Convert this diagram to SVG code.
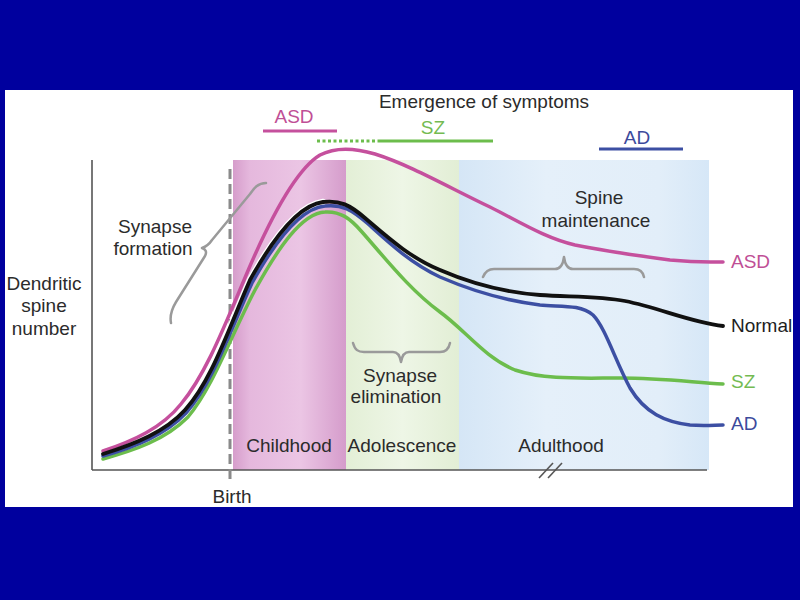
<svg xmlns="http://www.w3.org/2000/svg" width="800" height="600" viewBox="0 0 800 600">
<defs>
<style>
text{font-family:"Liberation Sans",Arial,sans-serif;font-size:19px;fill:#2b2b2b}
.mid{text-anchor:middle}
.curve{fill:none;stroke-linecap:round;stroke-linejoin:round}
.brace{fill:none;stroke:#9a9a9a;stroke-width:2.5;stroke-linecap:round;stroke-linejoin:round}
.halo{fill:none;stroke:#ffffff;stroke-width:6.5;stroke-linecap:round}
</style>
<linearGradient id="gChild" x1="0" y1="0" x2="1" y2="0">
<stop offset="0" stop-color="#d69dcb"/>
<stop offset="0.15" stop-color="#e5b8dd"/>
<stop offset="0.6" stop-color="#ebc5e4"/>
<stop offset="1" stop-color="#d59ccb"/>
</linearGradient>
<linearGradient id="gAdol" x1="0" y1="0" x2="1" y2="0">
<stop offset="0" stop-color="#e3efd6"/>
<stop offset="0.5" stop-color="#eef6e6"/>
<stop offset="1" stop-color="#e2eed5"/>
</linearGradient>
<linearGradient id="gAdult" x1="0" y1="0" x2="1" y2="0">
<stop offset="0" stop-color="#d5e6f6"/>
<stop offset="0.35" stop-color="#e5f0fa"/>
<stop offset="0.8" stop-color="#e2eef9"/>
<stop offset="1" stop-color="#d6e7f7"/>
</linearGradient>
</defs>
<rect x="0" y="0" width="800" height="600" fill="#00009e"/>
<rect x="5" y="90" width="788" height="417" fill="#ffffff"/>

<g id="periods">
<rect id="childhood" x="233" y="160" width="113" height="310" fill="url(#gChild)"/>
<rect id="adolescence" x="346" y="160" width="113" height="310" fill="url(#gAdol)"/>
<rect id="adulthood" x="459" y="160" width="250" height="310" fill="url(#gAdult)"/>
</g>

<g id="axes" stroke="#555" stroke-width="1.6" fill="none">
<line x1="92" y1="160" x2="92" y2="470"/>
<line x1="92" y1="470" x2="707" y2="470"/>
<line x1="539" y1="478" x2="553" y2="463"/>
<line x1="548" y1="478" x2="562" y2="463"/>
</g>
<line id="birth" x1="230" y1="169" x2="230" y2="482" stroke="#8a8a8a" stroke-width="3" stroke-dasharray="10 5"/>

<g id="braces">
<path class="brace" d="M266,183 C258,183 254,188 250,194 L212,240 Q208,246 202,248 Q208,250 205,256 L176,302 C170,312 170,318 171,323"/>
<path class="brace" d="M353,343 C355,350 358,352 364,352 L393,352 C398,352 400,356 401,362 C402,356 404,352 409,352 L440,352 C446,352 449,348 450,343"/>
<path class="brace" d="M483,277 C485,272 488,269 494,269 L555,269 C560,269 563,265 564,257 C565,265 568,269 573,269 L634,269 C640,269 643,272 644,277"/>
</g>

<g id="connectors">
<path class="halo" d="M103,454 C135,444 165,432 185,410 C212,380 228,330 250,280 C275,235 300,205 323,202"/>
<path id="asd-curve" class="curve" stroke="#c5509d" stroke-width="3.5" d="M103,451 C133,441 162,428 181,404 C207,373 226,322 250,266 C270,220 295,170 320,155 C335,147 355,148 375,154 C410,165 450,188 490,207 C520,222 545,238 575,245 C610,252 640,256 670,260 C700,263 712,262 723,262"/>
<path id="sz-curve" class="curve" stroke="#6cbd4c" stroke-width="3.5" d="M103,459 C135,450 165,440 188,417 C213,387 230,338 255,290 C278,248 302,213 325,212 C340,211 350,218 362,232 C385,258 410,290 440,312 C465,330 485,358 515,370 C545,380 580,378 620,378 C660,378 690,382 723,384"/>
<path id="ad-curve" class="curve" stroke="#3c4fa3" stroke-width="3.5" d="M103,456 C135,447 165,435 186,413 C213,383 229,333 252,283 C277,238 302,208 325,206 C342,204 352,210 367,223 C387,241 410,263 440,277 C470,290 500,300 540,305 C560,307 580,304 593,315 C605,327 615,360 630,388 C645,413 665,422 690,425 C705,426 715,425 723,425"/>
<path id="normal-curve" class="curve" stroke="#111111" stroke-width="3.8" d="M103,454 C135,444 165,432 185,410 C212,380 228,330 250,280 C275,235 300,205 323,202 C340,200 350,205 365,218 C385,235 410,258 440,270 C470,283 500,292 540,295 C570,297 600,296 625,301 C660,308 690,322 723,326"/>
</g>

<g id="symptoms">
<text class="mid" x="484" y="108">Emergence of symptoms</text>
<g id="sym-asd">
<text class="mid" x="294" y="123" style="fill:#bf4f96">ASD</text>
<line x1="263" y1="131" x2="337" y2="131" stroke="#c5509d" stroke-width="3"/>
</g>
<g id="sym-sz">
<text class="mid" x="433" y="134" style="fill:#74bb52">SZ</text>
<line x1="317" y1="141" x2="378" y2="141" stroke="#6cbd4c" stroke-width="3" stroke-dasharray="3 2.5"/>
<line x1="378" y1="141" x2="493" y2="141" stroke="#6cbd4c" stroke-width="3"/>
</g>
<g id="sym-ad">
<text class="mid" x="637" y="144" style="fill:#3c4a9c">AD</text>
<line x1="599" y1="149" x2="683" y2="149" stroke="#3c4fa3" stroke-width="3"/>
</g>
</g>

<g id="y-label">
<text class="mid" x="44" y="290">Dendritic</text>
<text class="mid" x="44" y="312">spine</text>
<text class="mid" x="44" y="335">number</text>
</g>
<g id="synapse-formation">
<text class="mid" x="155" y="233">Synapse</text>
<text class="mid" x="153" y="255">formation</text>
</g>
<g id="synapse-elimination">
<text class="mid" x="400" y="382">Synapse</text>
<text class="mid" x="396" y="403">elimination</text>
</g>
<g id="spine-maintenance">
<text class="mid" x="599" y="204">Spine</text>
<text class="mid" x="596" y="227">maintenance</text>
</g>
<g id="period-labels">
<text class="mid" x="289" y="452">Childhood</text>
<text class="mid" x="402" y="452">Adolescence</text>
<text class="mid" x="561" y="452">Adulthood</text>
<text class="mid" x="232" y="503">Birth</text>
</g>
<g id="curve-labels">
<text x="731" y="268" style="fill:#bf4f96">ASD</text>
<text x="731" y="332" style="fill:#1e1e1e">Normal</text>
<text x="731" y="388" style="fill:#74bb52">SZ</text>
<text x="731" y="430" style="fill:#3c4a9c">AD</text>
</g>
</svg>
